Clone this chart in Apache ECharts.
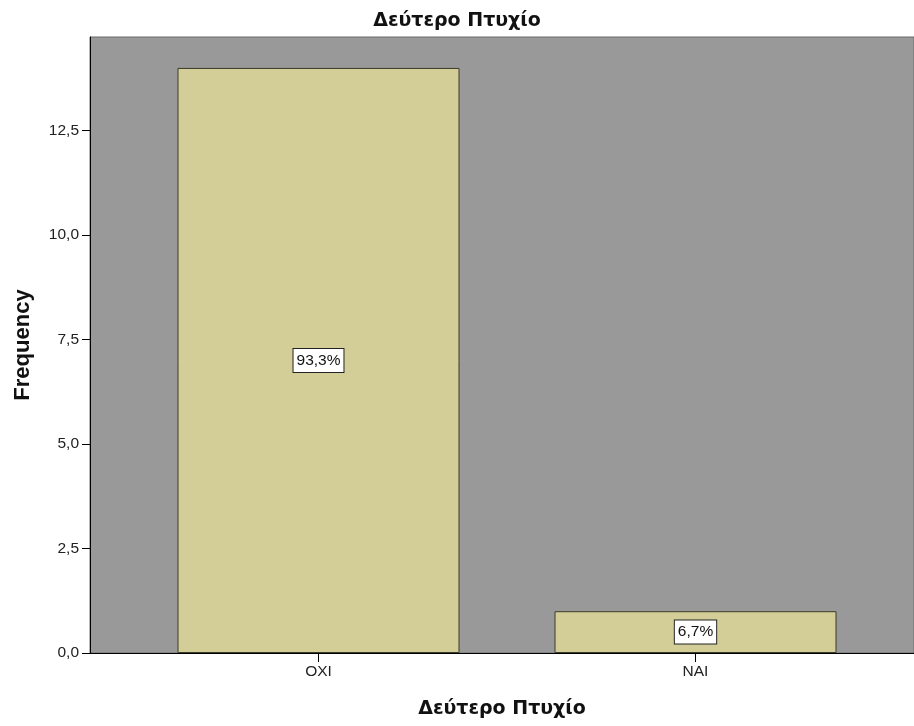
<!DOCTYPE html>
<html>
<head>
<meta charset="utf-8">
<script src="https://cdn.jsdelivr.net/npm/echarts@6/dist/echarts.min.js"></script>
<style>
  html, body { margin: 0; padding: 0; background: #ffffff; }
  #chart { width: 914px; height: 726px; }
</style>
</head>
<body>
<div id="chart"></div>
<script>
// Frequencies of "Δεύτερο Πτυχίο"
const categories = ['OXI', 'NAI'];
const counts = [14, 1];
const yTicks = [0, 2.5, 5, 7.5, 10, 12.5];

const total = counts.reduce((a, b) => a + b, 0);
const percentLabels = counts.map(c => (c / total * 100).toFixed(1).replace('.', ',') + '%');

const yMax = 14.74;
const latinFont = '"Liberation Sans", Arial, sans-serif';
const greekFont = '"DejaVu Sans", Verdana, sans-serif';

const chart = echarts.init(document.getElementById('chart'));
chart.setOption({
  animation: false,
  backgroundColor: '#ffffff',
  title: {
    text: 'Δεύτερο Πτυχίο',
    left: 'center',
    top: 7,
    textStyle: { fontFamily: greekFont, fontSize: 19, fontWeight: 'bold', color: '#111' }
  },
  grid: [
    { left: 90, right: 0, top: 37, bottom: 73, show: true, backgroundColor: '#999999', borderColor: '#6a6a6a', borderWidth: 1 },
    { left: 130, right: 30, top: 37, bottom: 73 }
  ],
  xAxis: [
    {
      gridIndex: 0, type: 'value', min: 0, max: 1,
      axisLine: { show: true, onZero: false, lineStyle: { color: '#000', width: 1 } },
      axisTick: { show: false }, axisLabel: { show: false }, splitLine: { show: false },
      name: 'Δεύτερο Πτυχίο', nameLocation: 'middle', nameGap: 47,
      nameTextStyle: { fontFamily: greekFont, fontSize: 19, fontWeight: 'bold', color: '#111' }
    },
    {
      gridIndex: 1, type: 'category', data: categories,
      axisLine: { show: false },
      axisTick: { show: true, alignWithLabel: true, length: 9, lineStyle: { color: '#000' } },
      axisLabel: { fontFamily: latinFont, fontSize: 15.5, color: '#222', margin: 11 }
    }
  ],
  yAxis: [
    {
      gridIndex: 0, type: 'value', min: 0, max: yMax, interval: 2.5,
      axisLine: { show: true, lineStyle: { color: '#000', width: 1 } },
      axisTick: { show: true, inside: false, length: 8, lineStyle: { color: '#000' } },
      axisLabel: {
        fontFamily: latinFont, fontSize: 15.5, color: '#222', margin: 11, showMaxLabel: false,
        formatter: v => yTicks.includes(v) ? v.toFixed(1).replace('.', ',') : ''
      },
      splitLine: { show: false },
      name: 'Frequency', nameLocation: 'middle', nameGap: 56,
      nameTextStyle: { fontFamily: latinFont, fontSize: 22, fontWeight: 'bold', color: '#111' }
    },
    {
      gridIndex: 1, type: 'value', min: 0, max: yMax, show: false
    }
  ],
  series: [
    {
      type: 'bar',
      xAxisIndex: 1, yAxisIndex: 1,
      data: counts,
      barWidth: 282,
      itemStyle: { color: '#d3ce97', borderColor: '#3a3a2a', borderWidth: 1 },
      label: {
        show: true, position: 'inside',
        formatter: p => percentLabels[p.dataIndex],
        fontFamily: latinFont, fontSize: 15.5, color: '#111',
        backgroundColor: '#ffffff', borderColor: '#222', borderWidth: 1,
        padding: [4, 3, 3, 3]
      }
    }
  ]
});
</script>
</body>
</html>
